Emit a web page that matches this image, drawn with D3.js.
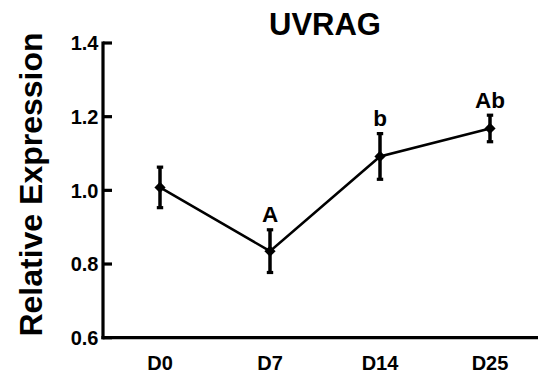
<!DOCTYPE html>
<html>
<head>
<meta charset="utf-8">
<script src="https://cdn.jsdelivr.net/npm/d3@7/dist/d3.min.js"></script>
<style>
  html, body { margin: 0; padding: 0; background: #fff; }
  svg { display: block; }
  text { font-family: "Liberation Sans", Arial, Helvetica, sans-serif; font-weight: bold; fill: #000; }
</style>
</head>
<body>
<svg id="chart" width="538" height="377"></svg>
<script>
// Relative expression of UVRAG over the sampling days
const days = ["D0", "D7", "D14", "D25"];
const means = [1.008, 0.835, 1.092, 1.168];
const errors = [0.055, 0.058, 0.062, 0.036];
const letters = ["", "A", "b", "Ab"];
const yTicks = [0.6, 0.8, 1.0, 1.2, 1.4];

const W = 538, H = 377;
const axisX = 103, axisY = 337.7, plotTop = 43;

const svg = d3.select("#chart");

const x = d3.scalePoint().domain(days).range([105, 545]).padding(0.5);
const y = d3.scaleLinear().domain([0.6, 1.4]).range([axisY, plotTop]);

// Title
svg.append("text")
  .attr("x", 325).attr("y", 35)
  .attr("text-anchor", "middle")
  .style("font-size", "31px")
  .text("UVRAG");

// Y axis title
svg.append("text")
  .attr("transform", "translate(42,184.5) rotate(-90)")
  .attr("text-anchor", "middle")
  .style("font-size", "32px")
  .text("Relative Expression");

// Y axis: ticks point into the plot
const yAxis = svg.append("g");
yAxis.append("line")
  .attr("x1", axisX).attr("x2", axisX)
  .attr("y1", y(1.4) - 1.6).attr("y2", axisY + 1.6)
  .attr("stroke", "#000").attr("stroke-width", 3.2);
yAxis.selectAll("line.tick").data(yTicks).join("line")
  .attr("class", "tick")
  .attr("x1", axisX).attr("x2", axisX + 9)
  .attr("y1", d => y(d)).attr("y2", d => y(d))
  .attr("stroke", "#000").attr("stroke-width", 3.2);
yAxis.selectAll("text").data(yTicks).join("text")
  .attr("x", axisX - 4.5)
  .attr("y", d => y(d))
  .attr("dy", "0.36em")
  .attr("text-anchor", "end")
  .style("font-size", "20px")
  .text(d => d3.format(".1f")(d));

// X axis
const xAxis = svg.append("g");
xAxis.append("line")
  .attr("x1", axisX - 1.6).attr("x2", W)
  .attr("y1", axisY).attr("y2", axisY)
  .attr("stroke", "#000").attr("stroke-width", 3.2);
xAxis.selectAll("text").data(days).join("text")
  .attr("x", d => x(d))
  .attr("y", 369.5)
  .attr("text-anchor", "middle")
  .style("font-size", "20px")
  .text(d => d);

const pts = days.map((d, i) => ({ day: d, m: means[i], e: errors[i], lab: letters[i] }));

// Connecting line
svg.append("path")
  .datum(pts)
  .attr("fill", "none")
  .attr("stroke", "#000")
  .attr("stroke-width", 2.5)
  .attr("d", d3.line().x(d => x(d.day)).y(d => y(d.m)));

// Error bars with caps
const eb = svg.append("g").selectAll("g").data(pts).join("g");
eb.append("line")
  .attr("x1", d => x(d.day)).attr("x2", d => x(d.day))
  .attr("y1", d => y(d.m + d.e)).attr("y2", d => y(d.m - d.e))
  .attr("stroke", "#000").attr("stroke-width", 3.5);
eb.append("line")
  .attr("x1", d => x(d.day) - 3.2).attr("x2", d => x(d.day) + 3.2)
  .attr("y1", d => y(d.m + d.e)).attr("y2", d => y(d.m + d.e))
  .attr("stroke", "#000").attr("stroke-width", 3.2);
eb.append("line")
  .attr("x1", d => x(d.day) - 3.2).attr("x2", d => x(d.day) + 3.2)
  .attr("y1", d => y(d.m - d.e)).attr("y2", d => y(d.m - d.e))
  .attr("stroke", "#000").attr("stroke-width", 3.2);

// Markers
svg.append("g").selectAll("path").data(pts).join("path")
  .attr("transform", d => `translate(${x(d.day)},${y(d.m)})`)
  .attr("d", d3.symbol().type(d3.symbolDiamond2).size(80))
  .attr("fill", "#000");

// Significance letters
svg.append("g").selectAll("text").data(pts).join("text")
  .attr("x", d => x(d.day))
  .attr("y", d => y(d.m + d.e) - 7.5)
  .attr("text-anchor", "middle")
  .style("font-size", "22.5px")
  .text(d => d.lab);
</script>
</body>
</html>
